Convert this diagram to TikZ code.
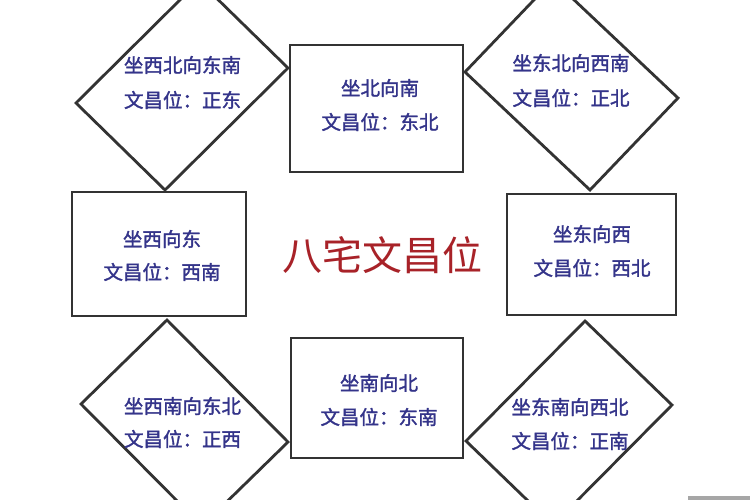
\documentclass[tikz,border=0pt]{standalone}
\usepackage{fontspec}
\setmainfont{Noto Sans CJK SC}
\newfontfamily\cjk{Noto Sans CJK SC}
\newfontfamily\cjkbold[FakeBold=1.6]{Noto Sans CJK SC}
\definecolor{txtblue}{HTML}{34348A}
\definecolor{titlered}{HTML}{A82228}
\definecolor{edge}{HTML}{333333}
\tikzset{
  shapeline/.style={draw=edge, line width=2.8pt, line join=miter},
  boxnode/.style={shapeline, rectangle, inner sep=0pt},
  lbl/.style={text=txtblue, font=\cjkbold\fontsize{19.5}{20}\selectfont, inner sep=0pt, anchor=center},
  ttl/.style={text=titlered, font=\cjk\fontsize{40}{42}\selectfont, inner sep=0pt, anchor=center}
}
\begin{document}
\begin{tikzpicture}[x=1pt,y=-1pt]
\useasboundingbox (0,0) rectangle (750,500);
\fill[white] (0,0) rectangle (750,500);
% diamonds
\draw[shapeline] (76,103) -- (199,-19) -- (288,68) -- (165,190) -- cycle;
\draw[shapeline] (465,72) -- (553,-20) -- (678,98) -- (590,190) -- cycle;
\draw[shapeline] (167,320) -- (288,442) -- (202,526) -- (81,404) -- cycle;
\draw[shapeline] (585,321) -- (672,405) -- (553,525) -- (466,441) -- cycle;
% rectangles
\node[boxnode, minimum width=173pt, minimum height=127pt] (top) at (376.5,108.5) {};
\node[boxnode, minimum width=174pt, minimum height=124pt] (left) at (159,254) {};
\node[boxnode, minimum width=169pt, minimum height=121pt] (right) at (591.5,254.5) {};
\node[boxnode, minimum width=172pt, minimum height=120pt] (bottom) at (377,398) {};
% labels
\node[lbl] (tl1) at (182.5,65) {坐西北向东南};
\node[lbl] (tl2) at (182.5,100) {文昌位：正东};
\node[lbl] (t1) at (380,88) {坐北向南};
\node[lbl] (t2) at (380,122) {文昌位：东北};
\node[lbl] (tr1) at (571,63) {坐东北向西南};
\node[lbl] (tr2) at (571,98) {文昌位：正北};
\node[lbl] (l1) at (162,239) {坐西向东};
\node[lbl] (l2) at (162,272) {文昌位：西南};
\node[lbl] (r1) at (592,234) {坐东向西};
\node[lbl] (r2) at (592,268) {文昌位：西北};
\node[lbl] (bl1) at (182.5,406) {坐西南向东北};
\node[lbl] (bl2) at (182.5,439) {文昌位：正西};
\node[lbl] (br1) at (570,407) {坐东南向西北};
\node[lbl] (br2) at (570,441) {文昌位：正南};
\node[lbl] (b1) at (379,383) {坐南向北};
\node[lbl] (b2) at (379,417) {文昌位：东南};
\node[ttl] (title) at (382.5,255) {八宅文昌位};
% grey strip at bottom right
\fill[gray!70] (688,496) rectangle (750,500);
\end{tikzpicture}
\end{document}
